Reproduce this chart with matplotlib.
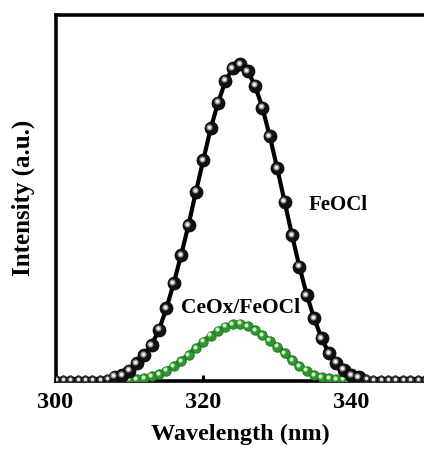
import numpy as np
import matplotlib
matplotlib.use("Agg")
import matplotlib.pyplot as plt
from matplotlib.transforms import offset_copy

plt.rcParams['font.family'] = 'Liberation Serif'
plt.rcParams['font.weight'] = 'bold'

# emission spectra, normalised to the FeOCl maximum
wl_feocl = np.arange(300, 351)
int_feocl = [0.0, 0.0, 0.0, 0.0, 0.0, 0.0, 0.0,
             0.003, 0.007, 0.013, 0.026, 0.050, 0.076, 0.108, 0.156, 0.224,
             0.304, 0.394, 0.489, 0.595, 0.695, 0.796, 0.877, 0.947, 0.987,
             1.000, 0.978, 0.931, 0.861, 0.770, 0.669, 0.563, 0.457, 0.357,
             0.267, 0.193, 0.129, 0.082, 0.052, 0.029, 0.013, 0.006, 0.002,
             0.0, 0.0, 0.0, 0.0, 0.0, 0.0, 0.0, 0.0]

wl_ceox = np.arange(310, 340)
int_ceox = [0.000, 0.000, 0.003, 0.008, 0.016, 0.027, 0.041, 0.057, 0.076,
            0.097, 0.118, 0.137, 0.153, 0.166, 0.175, 0.176, 0.168, 0.155,
            0.140, 0.122, 0.103, 0.082, 0.060, 0.041, 0.026, 0.013, 0.006,
            0.002, 0.000, 0.000]

x_ticks = [300, 320, 340]

fig = plt.figure(figsize=(4.24, 4.53), dpi=100)
ax = fig.add_axes([0.1309, 0.1589, 0.8715, 0.809])

# little "ball" look: dark disc plus a light spot shifted up-left
hl = offset_copy(ax.transData, fig=fig, x=-1.0, y=1.0, units='points')

# CeOx/FeOCl (green)
wc = np.array(wl_ceox)
ic = np.array(int_ceox)
ax.plot(wc, ic, color='#1a7a1a', lw=4.0, zorder=2)
ax.plot(wc, ic, 'o', ms=6.8, mfc='#2e962e', mec='#1a7a1a', mew=0.6, zorder=3)
ax.plot(wc, ic, 'o', ms=3.0, mfc='#d2f2c8', mec='none', transform=hl, zorder=4)

# FeOCl (black)
wf = np.array(wl_feocl)
fi = np.array(int_feocl)
big = fi >= 0.005
ax.plot(wf, fi, color='black', lw=3.0, zorder=5)
ax.plot(wf[big], fi[big], 'o', ms=9.4, mfc='#111111', mec='black', mew=0.5, zorder=6)
ax.plot(wf[big], fi[big], 'o', ms=4.4, mfc='#9a9a9a', mec='none', transform=hl, zorder=7)
ax.plot(wf[big], fi[big], 'o', ms=2.1, mfc='white', mec='none', transform=hl, zorder=8)
ax.plot(wf[~big], fi[~big], 'o', ms=5.4, mfc='#3a3a3a', mec='black', mew=0.4, zorder=6)
ax.plot(wf[~big], fi[~big], 'o', ms=2.6, mfc='#e6e6e6', mec='none', zorder=7)

ax.text(338.2, (379 - 205) / 315, 'FeOCl', fontsize=15, fontweight='bold',
        ha='center', va='center', zorder=10)
ax.text(325.1, (379 - 308) / 315, 'CeOx/FeOCl', fontsize=15.5, fontweight='bold',
        ha='center', va='center', zorder=10)

ax.set_xlim(300, 350)
ax.set_ylim(-2 / 315, (379 - 14.5) / 315)
ax.set_xticks(x_ticks)
ax.set_yticks([])
ax.tick_params(axis='x', direction='in', length=4, width=2.2, labelsize=17.5, pad=8)
for lab in ax.get_xticklabels():
    lab.set_fontweight('bold')
for sp in ax.spines.values():
    sp.set_linewidth(2.6)

ax.set_xlabel('Wavelength (nm)', fontsize=17.5, fontweight='bold', labelpad=8)
ax.set_ylabel('Intensity (a.u.)', fontsize=18, fontweight='bold', labelpad=15)

fig.savefig('out.png', dpi=100)
